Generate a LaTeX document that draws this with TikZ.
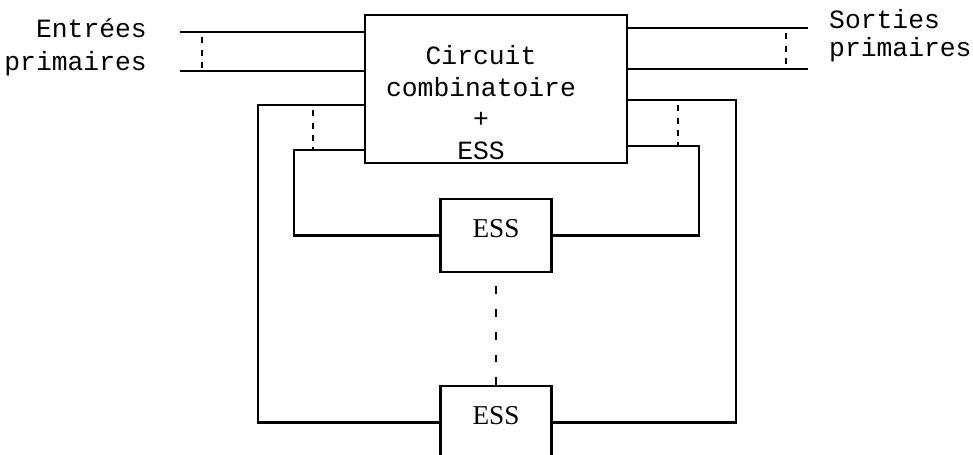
\documentclass[tikz,border=0pt]{standalone}
\usepackage{fontspec}
\setmainfont{Liberation Serif}
\setmonofont{Liberation Mono}
\usetikzlibrary{positioning}

\begin{document}
\begin{tikzpicture}[
            x=0.02cm,
            y=-0.02cm,
            line width=1.4pt,
            bloc/.style={
                draw,
                rectangle,
                minimum width=2.22cm,
                minimum height=1.46cm,
                text depth=8pt,
                font=\fontsize{15.5pt}{18pt}\selectfont
            },
            texte/.style={
                inner sep=0pt,
                font=\ttfamily\fontsize{15pt}{18pt}\selectfont
            },
            bus/.style={
                line width=1.2pt,
                dash pattern=on 3.5pt off 3.5pt,
                dash phase=4pt
            },
            suite/.style={
                line width=1.2pt,
                dash pattern=on 4.5pt off 8.5pt,
                dash phase=5.7pt
            }
        ]
            \useasboundingbox (0,0) rectangle (973,454);
            \clip (0,0) rectangle (973,454);

            % Bloc principal
            \node [bloc, minimum width=5.24cm, minimum height=2.96cm] (cc) at (496,89) {};
            \node [texte, align=center] (cctexte) at (481,102.5) {Circuit\\combinatoire\\+\\ESS};

            % Elements de stockage
            \node [bloc, below=0.67cm of cc] (essA) {ESS};
            \node [bloc, below=2.23cm of essA] (essB) {ESS};

            % Entrees primaires
            \coordinate (e1) at (180,32);
            \coordinate (e2) at (180,71);
            \coordinate (be) at (202,0);
            \draw (e1) -- (e1 -| cc.west);
            \draw (e2) -- (e2 -| cc.west);
            \draw [bus] (be |- e1) -- (be |- e2);
            \node [texte, align=right, anchor=east,
                font=\ttfamily\fontsize{15pt}{18.7pt}\selectfont] (entrees) at (148,47.5) {Entrées\\primaires};

            % Sorties primaires
            \coordinate (s1) at (808,28);
            \coordinate (s2) at (808,69);
            \coordinate (bs) at (786,0);
            \draw (s1 -| cc.east) -- (s1);
            \draw (s2 -| cc.east) -- (s2);
            \draw [bus] (bs |- s1) -- (bs |- s2);
            \node [texte, align=left, anchor=west,
                font=\ttfamily\fontsize{15pt}{15.9pt}\selectfont] (sorties) at (828,36) {Sorties\\primaires};

            % Bouclages vers les ESS
            \coordinate (g1) at (258,105);
            \coordinate (g2) at (294,150);
            \coordinate (d1) at (736,100);
            \coordinate (d2) at (699,146);
            \coordinate (bg) at (313,0);
            \coordinate (bd) at (678,0);
            \draw (g1 -| cc.west) -- (g1) |- (essB.west);
            \draw (g2 -| cc.west) -- (g2) |- (essA.west);
            \draw (d1 -| cc.east) -- (d1) |- (essB.east);
            \draw (d2 -| cc.east) -- (d2) |- (essA.east);
            \draw [bus] (bg |- g1) -- (bg |- g2);
            \draw [bus] (bd |- d1) -- (bd |- d2);

            % ESS en serie
            \draw [suite] (essA) -- (essB);
        \end{tikzpicture}
\end{document}
